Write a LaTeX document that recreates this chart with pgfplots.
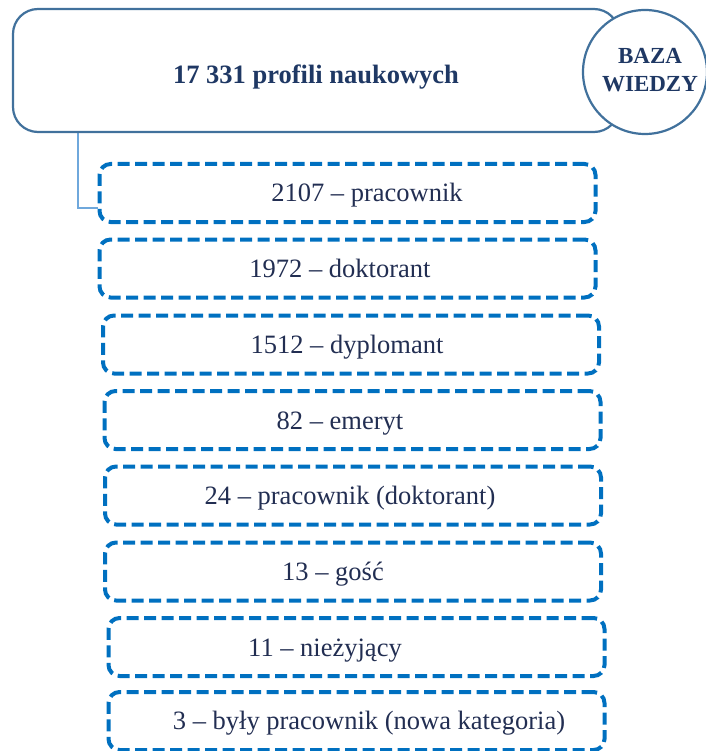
\documentclass[border=0pt]{standalone}
\usepackage{pgfplots}
\pgfplotsset{compat=1.18}
\usepackage{fontspec}
\setmainfont{Liberation Serif}
\definecolor{boxblue}{HTML}{0070C0}
\definecolor{topline}{HTML}{41719C}
\definecolor{conn}{HTML}{6FA8DC}
\definecolor{navy}{HTML}{1F3864}
\definecolor{txt}{HTML}{222E52}
\begin{document}
\begin{tikzpicture}
\begin{axis}[x=1pt, y=1pt, y dir=reverse, xmin=0, xmax=705, ymin=0, ymax=751,
  hide axis, clip=false, scale only axis]
% connector
\addplot[conn, line width=1.5pt, mark=none] coordinates {(78,133) (78,208) (98,208)};
% top box
\addplot[draw=none, mark=none, nodes near coords={},
  every node near coord/.append style={anchor=center, draw=topline, fill=white,
    line width=2.2pt, rounded corners=25pt, minimum width=606pt, minimum height=123pt, inner sep=0pt}]
  coordinates {(316,70.5)};
% circle
\addplot[draw=none, mark=none, nodes near coords={},
  every node near coord/.append style={anchor=center, circle, draw=topline, fill=white,
    line width=2.2pt, minimum size=124pt, inner sep=0pt}]
  coordinates {(645,72)};
% top texts
\addplot[draw=none, mark=none, nodes near coords, point meta=explicit symbolic,
  every node near coord/.append style={anchor=base, text=navy,
    font=\fontsize{26.5}{28}\selectfont\bfseries, inner sep=0pt}]
  coordinates {(316,84) [17 331 profili naukowych]};
\addplot[draw=none, mark=none, nodes near coords={\begin{tabular}{@{}c@{}}BAZA\\[0pt]WIEDZY\end{tabular}},
  every node near coord/.append style={anchor=center, text=navy,
    font=\fontsize{23}{28}\selectfont\bfseries, inner sep=0pt}]
  coordinates {(650,71.5)};
% dashed boxes
\addplot[draw=none, mark=none, nodes near coords={},
  every node near coord/.append style={anchor=center, draw=boxblue,
    line width=4pt, dash pattern=on 12pt off 5.5pt, rounded corners=11pt,
    minimum width=496pt, minimum height=58pt, inner sep=0pt}]
  coordinates {(347.5,193) (347.5,268.5) (351,344.5) (352.5,420) (353,495.5) (353,571.5) (356.5,647) (356.5,721)};
% labels
\addplot[draw=none, mark=none, nodes near coords, point meta=explicit symbolic,
  every node near coord/.append style={anchor=base, text=txt,
    font=\fontsize{26.5}{28}\selectfont, inner sep=0pt}]
  coordinates {
  (367,202) [2107 – pracownik]
  (340,277.5) [1972 – doktorant]
  (347,353.5) [1512 – dyplomant]
  (340,429) [82 – emeryt]
  (350,504.5) [24 – pracownik (doktorant)]
  (333,580.5) [13 – gość]
  (325,656) [11 – nieżyjący]
  (369,729.5) [3 – były pracownik (nowa kategoria)]
  };
\end{axis}
\pgfresetboundingbox
\useasboundingbox (current axis.south west) rectangle (current axis.north east);
\end{tikzpicture}
\end{document}
